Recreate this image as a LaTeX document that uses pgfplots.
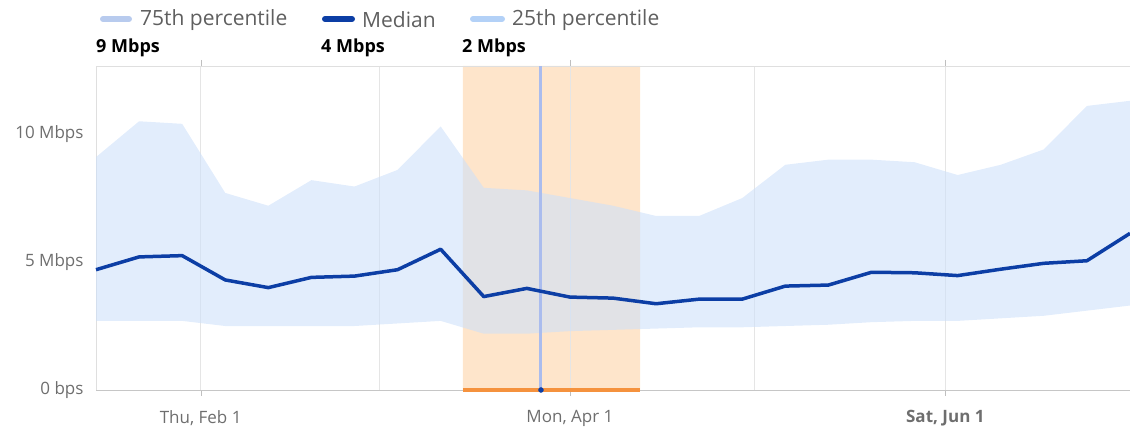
\documentclass[border=0pt]{standalone}
\usepackage{pgfplots}
\pgfplotsset{compat=1.18}
\usepackage{pgfplotstable}
\usepgfplotslibrary{fillbetween}
\usepackage{fontspec}
\setmainfont{Open Sans}
\definecolor{medblue}{RGB}{12,62,165}
\definecolor{bandC}{RGB}{205,224,250}
\definecolor{orangeL}{RGB}{254,229,203}
\definecolor{orangeD}{RGB}{245,146,62}
\definecolor{vline}{RGB}{170,188,238}
\definecolor{sw75}{RGB}{184,203,238}
\definecolor{sw25}{RGB}{179,209,247}
\definecolor{txtgray}{RGB}{95,95,95}
\definecolor{tickgray}{RGB}{110,110,110}

\pgfplotstableread{
d p75 med p25
-17 9.1 4.7 2.7
-10 10.5 5.2 2.7
-3 10.4 5.25 2.7
4 7.7 4.3 2.5
11 7.2 4.0 2.5
18 8.2 4.4 2.5
25 7.95 4.45 2.5
32 8.6 4.7 2.6
39 10.3 5.5 2.7
46 7.9 3.65 2.2
53 7.8 3.97 2.2
60 7.5 3.63 2.3
67 7.2 3.59 2.35
74 6.8 3.37 2.4
81 6.8 3.55 2.45
88 7.5 3.55 2.45
95 8.8 4.06 2.5
102 9.0 4.1 2.55
109 9.0 4.6 2.65
116 8.9 4.58 2.7
123 8.4 4.47 2.7
130 8.8 4.72 2.8
137 9.4 4.95 2.9
144 11.1 5.05 3.1
151 11.3 6.12 3.3
}\speed

\begin{document}
\begin{tikzpicture}[x=1pt,y=1pt]
% legend
\draw[sw75, line width=6pt, line cap=round] (103,408) -- (129,408);
\node[anchor=west, text=txtgray, font=\fontsize{21}{24}\selectfont, inner sep=0pt] at (140,407) {75th percentile};
\draw[medblue, line width=6pt, line cap=round] (325,408) -- (352,408);
\node[anchor=west, text=txtgray, font=\fontsize{21}{24}\selectfont, inner sep=0pt] at (362,407) {Median};
\draw[sw25, line width=6pt, line cap=round] (473,408) -- (502,408);
\node[anchor=west, text=txtgray, font=\fontsize{21}{24}\selectfont, inner sep=0pt] at (512,407) {25th percentile};
\node[anchor=west, font=\fontsize{18}{21}\selectfont\bfseries, inner sep=0pt] at (96,379) {9 Mbps};
\node[anchor=west, font=\fontsize{18}{21}\selectfont\bfseries, inner sep=0pt] at (321,379) {4 Mbps};
\node[anchor=west, font=\fontsize{18}{21}\selectfont\bfseries, inner sep=0pt] at (462,379) {2 Mbps};

\begin{axis}[
  set layers,
  at={(200.63pt,37pt)}, anchor=origin,
  width=1034pt, height=324pt, scale only axis,
  xmin=-17, xmax=151, ymin=0, ymax=12.66,
  clip=false,
  axis line style={draw=gray!25},
  xtick={0,60,121},
  xticklabels={{Thu, Feb 1},{Mon, Apr 1},{\bfseries Sat, Jun 1}},
  extra x ticks={29,90},
  extra x tick labels={},
  extra x tick style={major tick length=0pt, grid=major},
  xmajorgrids,
  major grid style={gray!20, line width=0.8pt},
  tick align=outside,
  major tick length=6pt,
  xtick style={draw=gray!50},
  ytick={0,5,10},
  yticklabels={0 bps,5 Mbps,10 Mbps},
  ytick style={draw=none},
  tick label style={font=\fontsize{17}{20}\selectfont, text=tickgray},
  yticklabel style={anchor=east, xshift=-3pt},
  xticklabel style={yshift=-11pt},
]
\addplot[draw=none, fill=orangeL, on layer=axis background] coordinates {(42.6,0) (42.6,12.66) (71.4,12.66) (71.4,0)} \closedcycle;
\addplot[name path=upper, draw=none] table[x=d, y=p75] {\speed};
\addplot[name path=lower, draw=none] table[x=d, y=p25] {\speed};
\addplot[fill=bandC, fill opacity=0.58, draw=none] fill between[of=upper and lower];
\addplot[vline, line width=3pt] coordinates {(55.3,0) (55.3,12.66)};
\draw[gray!45, line width=0.8pt] (rel axis cs:0,0) -- (rel axis cs:1,0);
\addplot[orangeD, line width=4.5pt] coordinates {(42.6,0) (71.4,0)};
\addplot[only marks, mark=*, mark size=2.5pt, color=medblue] coordinates {(55.3,0)};
\addplot[medblue, line width=3.5pt, line join=round] table[x=d, y=med] {\speed};
\end{axis}
\pgfresetboundingbox
\path[use as bounding box] (0,0) rectangle (1130,427);
\end{tikzpicture}
\end{document}
